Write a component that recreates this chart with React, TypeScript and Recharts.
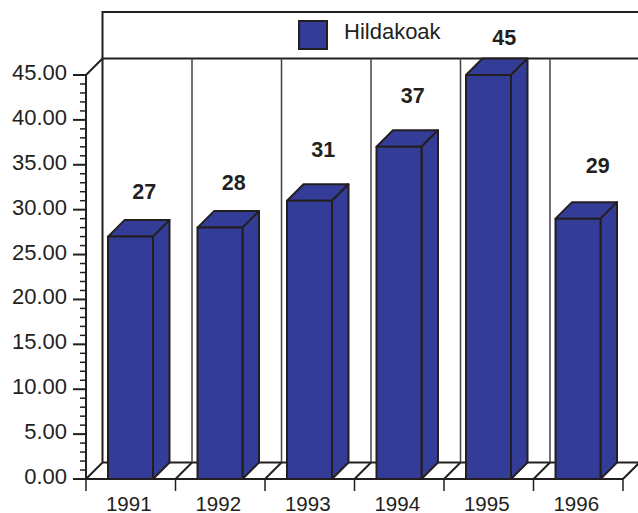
import { BarChart, Bar, XAxis, YAxis, Legend, LabelList } from 'recharts'

const years = ['1991', '1992', '1993', '1994', '1995', '1996']
const deaths = [27, 28, 31, 37, 45, 29]
// where each value label sits relative to its bar, as placed in the original
const labelLift = [46, 46, 52, 52, 38, 54]
const labelNudge = [0, 0, 0, 0, 2, 6]
const yTicks = Array.from({ length: 46 }, (_, i) => i)

const seriesName = 'Hildakoak'
const data = years.map((year, i) => ({ year, deaths: deaths[i] }))

const WIDTH = 638
const HEIGHT = 513
const LEFT = 86
const TOP = 75
const PLOT_W = 537
const PLOT_H = 404
const BOTTOM = TOP + PLOT_H
const BAND = PLOT_W / years.length
const DX = 16.5
const DY = 16.5

const INK = '#231f20'
const WALL_LINE = '#444244'
const BLUE = '#333d97'
const FONT = '"Liberation Sans", Arial, sans-serif'

// front, top and side faces of one bar
function Bar3D({ x, y, width, height }: any) {
  const r = x + width
  const b = y + height
  return (
    <g stroke={INK} strokeWidth={2} strokeLinejoin="round" fill={BLUE}>
      <path d={`M${x} ${y}L${x + DX} ${y - DY}H${r + DX}L${r} ${y}Z`} />
      <path d={`M${r} ${y}L${r + DX} ${y - DY}V${b - DY}L${r} ${b}Z`} />
      <rect x={x} y={y} width={width} height={height} />
    </g>
  )
}

function YTick({ y, payload }: any) {
  const major = payload.value % 5 === 0
  return (
    <g>
      <line x1={LEFT - (major ? 13 : 6)} x2={LEFT} y1={y} y2={y} stroke={INK} strokeWidth={major ? 2 : 1.5} />
      {major && (
        <text x={67} y={y + 5} textAnchor="end" fontSize={22} fontFamily={FONT} fill={INK}>
          {payload.value.toFixed(2)}
        </text>
      )}
    </g>
  )
}

function XTick({ x, payload, index }: any) {
  const left = x - BAND / 2
  return (
    <g>
      <line x1={left} x2={left} y1={BOTTOM} y2={BOTTOM + 12} stroke={INK} strokeWidth={1.5} />
      {index === years.length - 1 && (
        <line x1={left + BAND} x2={left + BAND} y1={BOTTOM} y2={BOTTOM + 12} stroke={INK} strokeWidth={1.5} />
      )}
      <text x={x - 2} y={BOTTOM + 32} textAnchor="middle" fontSize={20.5} fontFamily={FONT} fill={INK}>
        {payload.value}
      </text>
    </g>
  )
}

function ValueLabel({ x, y, width, value, index }: any) {
  return (
    <text
      x={x + width + DX / 2 - 17 + labelNudge[index]}
      y={y - labelLift[index] + 8}
      textAnchor="middle"
      fontSize={21.5}
      fontWeight="bold"
      fontFamily={FONT}
      fill={INK}
    >
      {value}
    </text>
  )
}

function LegendBox() {
  return (
    <div style={{ display: 'flex', alignItems: 'flex-start', fontFamily: FONT, fontSize: 22, color: INK }}>
      <span
        style={{
          width: 30,
          height: 30,
          boxSizing: 'border-box',
          background: BLUE,
          border: `2px solid ${INK}`,
          marginRight: 16,
        }}
      />
      <span style={{ lineHeight: '24px' }}>{seriesName}</span>
    </div>
  )
}

// back wall, floor and legend frame behind the bars
function Room() {
  const wall = LEFT + DX
  const floor = BOTTOM - DY
  return (
    <g fill="none" stroke={INK} strokeWidth={2}>
      <path d={`M${LEFT} ${TOP}L${wall} ${TOP - DY}`} />
      <path d={`M${wall} ${floor}V12H${WIDTH}`} />
      <path d={`M${wall} ${TOP - DY}H${WIDTH}`} />
      <path d={`M${wall} ${floor}H${WIDTH}`} />
      {years.map((_, i) => {
        const bx = LEFT + BAND * (i + 1)
        return (
          <g key={i}>
            {i < years.length - 1 && (
              <line x1={bx + DX} x2={bx + DX} y1={TOP - DY} y2={floor} strokeWidth={1.5} stroke={WALL_LINE} />
            )}
            <line x1={bx} x2={bx + DX} y1={BOTTOM} y2={floor} />
          </g>
        )
      })}
      <path d={`M${LEFT} ${BOTTOM}L${wall} ${floor}`} />
      <path d={`M${LEFT} ${TOP}V${BOTTOM}`} />
      <path d={`M${LEFT - 13} ${BOTTOM}H${LEFT + PLOT_W}`} />
    </g>
  )
}

export default function App() {
  return (
    <div style={{ position: 'absolute', left: 0, top: 0 }}>
      <BarChart
        width={WIDTH}
        height={HEIGHT}
        data={data}
        margin={{ top: TOP, left: 0, right: WIDTH - LEFT - PLOT_W, bottom: 0 }}
        barSize={45}
      >
        <XAxis dataKey="year" axisLine={false} tickLine={false} tick={<XTick />} interval={0} height={HEIGHT - BOTTOM} />
        <YAxis
          domain={[0, 45]}
          ticks={yTicks}
          interval={0}
          axisLine={false}
          tickLine={false}
          tick={<YTick />}
          width={LEFT}
        />
        <Room />
        <Legend
          verticalAlign="middle"
          align="center"
          content={<LegendBox />}
          wrapperStyle={{ position: 'absolute', left: 298, top: 20, width: 200, height: 30 }}
        />
        <Bar dataKey="deaths" name={seriesName} shape={<Bar3D />} isAnimationActive={false}>
          <LabelList dataKey="deaths" content={<ValueLabel />} />
        </Bar>
      </BarChart>
    </div>
  )
}
